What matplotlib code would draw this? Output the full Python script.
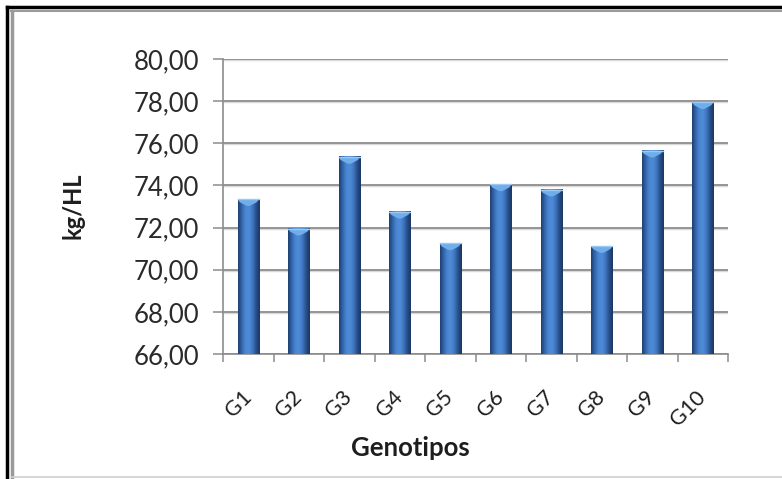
import matplotlib
matplotlib.use("Agg")
import matplotlib.pyplot as plt
import numpy as np
from matplotlib.colors import LinearSegmentedColormap
from matplotlib.patches import Polygon
from matplotlib.lines import Line2D
import matplotlib.transforms as mtransforms

genotipos = ["G1", "G2", "G3", "G4", "G5", "G6", "G7", "G8", "G9", "G10"]
kg_hl = [73.35, 71.95, 75.35, 72.75, 71.25, 74.05, 73.80, 71.12, 75.65, 77.95]
y_ticks = [66, 68, 70, 72, 74, 76, 78, 80]
y_tick_labels = ["66,00", "68,00", "70,00", "72,00", "74,00", "76,00", "78,00", "80,00"]

plt.rcParams["font.family"] = ["Lato", "DejaVu Sans"]

W, H = 782, 479
fig = plt.figure(figsize=(W / 100, H / 100), dpi=100)
fig.patch.set_facecolor("white")

ax = fig.add_axes([223 / W, 1 - 354 / H, (728 - 223) / W, (354 - 59) / H])
ax.set_facecolor("white")

ymin, ymax = 66, 80
ax.set_ylim(ymin, ymax)
n = len(genotipos)
ax.set_xlim(-0.5, n - 0.5)

grid_c = "#8c8c8c"
for t in y_ticks:
    ax.axhline(t, color=grid_c, lw=1.3, zorder=1)
    ax.axhline(t - 0.045, color="#d9d9d9", lw=1.0, zorder=0.9)

for s in ["top", "right"]:
    ax.spines[s].set_visible(False)
for s in ["left", "bottom"]:
    ax.spines[s].set_color(grid_c)
    ax.spines[s].set_linewidth(1.2)

ax.set_yticks(y_ticks)
ax.set_yticklabels(y_tick_labels, fontsize=18.5, color="#2a2a2a")
ax.tick_params(axis="y", length=7, width=1.1, color=grid_c, pad=10, direction="out")

# category boundary ticks on x axis
ax.set_xticks(np.arange(-0.5, n, 1.0), minor=False)
ax.set_xticklabels([])
ax.tick_params(axis="x", length=6, width=1.1, color=grid_c, direction="out")

# tick labels at bar centres, rotated
offset = mtransforms.ScaledTranslation(7 / 100, -33 / 100, fig.dpi_scale_trans)
for i, g in enumerate(genotipos):
    ax.text(i, ymin, g, rotation=45, ha="right", va="top", fontsize=15.5,
            color="#1e1e1e", transform=ax.transData + offset, clip_on=False)

# bars with horizontal cylinder-like shading
bar_w = 0.42
cmap = LinearSegmentedColormap.from_list(
    "barshade",
    ["#1f3e6e", "#3266ad", "#4a86d2", "#4f8cd8", "#3f76c0", "#284f8a", "#1a3662"])
grad = np.linspace(0, 1, 64).reshape(1, -1)
for i, v in enumerate(kg_hl):
    x0, x1 = i - bar_w / 2, i + bar_w / 2
    ax.imshow(grad, cmap=cmap, extent=[x0, x1, ymin, v], aspect="auto",
              zorder=3, interpolation="bicubic")
    cap_h = 0.32
    cap = Polygon([[x0, v], [x1, v], [x1 - 0.04, v - cap_h * 0.45],
                   [i + 0.03, v - cap_h], [i - 0.03, v - cap_h],
                   [x0 + 0.04, v - cap_h * 0.45]],
                  closed=True, facecolor="#6faeea", edgecolor="none", zorder=4)
    ax.add_patch(cap)
    ax.plot([x0, x1], [v, v], color="#9cc8f2", lw=1.0, zorder=5)

ax.set_xlim(-0.5, n - 0.5)
ax.set_ylim(ymin, ymax)

fig.text(73 / W, 1 - 206 / H, "kg/HL", rotation=90, ha="center", va="center",
         fontsize=17, fontweight="bold", color="#1e1e1e")
fig.text(410 / W, 1 - 448 / H, "Genotipos", ha="center", va="center",
         fontsize=18.5, fontweight="bold", color="#1e1e1e")

# outer frame: dark border with a grey inner line (left and top only)
def px_line(x, y, **kw):
    fig.add_artist(Line2D([v / W for v in x], [1 - v / H for v in y],
                          transform=fig.transFigure, **kw))

px_line([7, 7], [7, H], color="black", lw=2.5)
px_line([7, W], [7, 7], color="black", lw=2.5)
px_line([11.5, 11.5], [11, H], color="#9a9a9a", lw=2.5)
px_line([11, W], [10.5, 10.5], color="#9a9a9a", lw=1.5)
px_line([12, W], [477, 477], color="#d0d0d0", lw=1.2)

fig.savefig("out.png", dpi=100, facecolor="white")
